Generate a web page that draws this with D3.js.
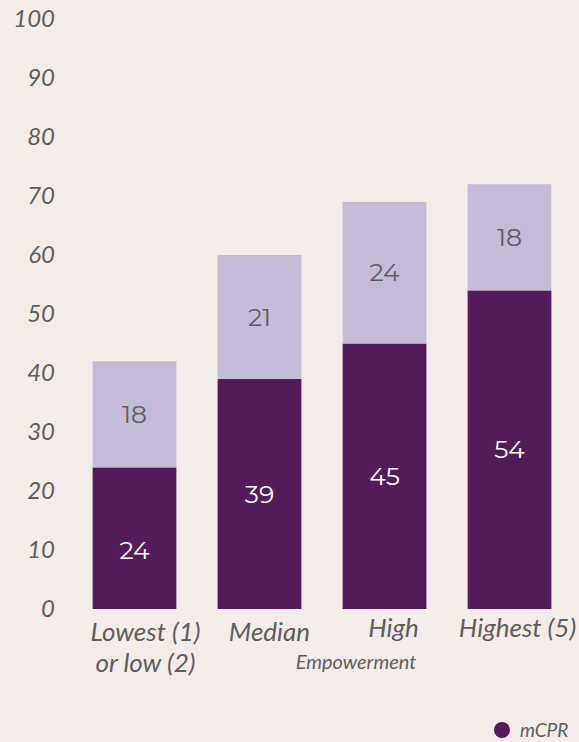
<!DOCTYPE html>
<html>
<head>
<meta charset="utf-8">
<script src="https://cdn.jsdelivr.net/npm/d3@7"></script>
<style>
  html, body { margin: 0; padding: 0; background: #f4ece9; }
  svg { display: block; }
</style>
</head>
<body>
<svg id="chart" width="579" height="742"></svg>
<script>
const categories = ["Lowest (1) or low (2)", "Median", "High", "Highest (5)"];
const categoryLines = [["Lowest (1)", "or low (2)"], ["Median"], ["High"], ["Highest (5)"]];
const mcpr = [24, 39, 45, 54];
const other = [18, 21, 24, 18];
const yTicks = [0, 10, 20, 30, 40, 50, 60, 70, 80, 90, 100];
const axisTitle = "Empowerment";
const legendLabel = "mCPR";

const W = 579, H = 742;
const svg = d3.select("#chart");
svg.append("rect").attr("width", W).attr("height", H).attr("fill", "#f4ece9");

const x = d3.scaleBand().domain(categories).range([72, 572]).paddingInner(0.33).paddingOuter(0.165);
const y = d3.scaleLinear().domain([0, 100]).range([609, 19]);

const DARK = "#541b5b", LIGHT = "#c4bbd8", TEXT = "#5e5e5e";

// y axis labels
const yAxis = d3.axisLeft(y).tickValues(yTicks).tickSize(0).tickPadding(0);
const gy = svg.append("g").attr("transform", "translate(55,0)").call(yAxis);
gy.select(".domain").remove();
gy.selectAll("text")
  .attr("fill", TEXT)
  .attr("font-family", "Lato, sans-serif")
  .attr("font-style", "italic")
  .attr("font-size", 24)
  .attr("dy", "0.3em");

const stackData = categories.map((c, i) => ({ cat: c, mcpr: mcpr[i], other: other[i] }));

// dark segments
svg.selectAll("rect.dark").data(stackData).join("rect")
  .attr("class", "dark")
  .attr("x", d => x(d.cat))
  .attr("width", x.bandwidth())
  .attr("y", d => y(d.mcpr))
  .attr("height", d => y(0) - y(d.mcpr))
  .attr("fill", DARK);

// light segments
svg.selectAll("rect.light").data(stackData).join("rect")
  .attr("class", "light")
  .attr("x", d => x(d.cat))
  .attr("width", x.bandwidth())
  .attr("y", d => y(d.mcpr + d.other))
  .attr("height", d => y(d.mcpr) - y(d.mcpr + d.other))
  .attr("fill", LIGHT);

const valFont = "Montserrat, 'Open Sans', sans-serif";
svg.selectAll("text.vd").data(stackData).join("text")
  .attr("class", "vd")
  .attr("x", d => x(d.cat) + x.bandwidth() / 2)
  .attr("y", (d, i) => y(d.mcpr / 2) + (i === 0 ? 12 : 0))
  .attr("dy", "0.35em")
  .attr("text-anchor", "middle")
  .attr("fill", "#ffffff")
  .attr("font-family", valFont)
  .attr("font-weight", 400)
  .attr("font-size", 25)
  .text(d => d.mcpr);

svg.selectAll("text.vl").data(stackData).join("text")
  .attr("class", "vl")
  .attr("x", d => x(d.cat) + x.bandwidth() / 2)
  .attr("y", d => y(d.mcpr + d.other / 2))
  .attr("dy", "0.35em")
  .attr("text-anchor", "middle")
  .attr("fill", TEXT)
  .attr("font-family", valFont)
  .attr("font-weight", 400)
  .attr("font-size", 25)
  .text(d => d.other);

// x labels
const xLabelY = [632, 632, 628, 628];
const xLabelShift = [11, 10, 9, 8];
const gx = svg.append("g");
categories.forEach((c, i) => {
  const cx = x(c) + x.bandwidth() / 2 + xLabelShift[i];
  const t = gx.append("text")
    .attr("x", cx)
    .attr("y", xLabelY[i])
    .attr("text-anchor", "middle")
    .attr("fill", TEXT)
    .attr("font-family", "Lato, sans-serif")
    .attr("font-style", "italic")
    .attr("font-size", 26);
  categoryLines[i].forEach((line, j) => {
    t.append("tspan")
      .attr("x", cx)
      .attr("dy", j === 0 ? "0.35em" : 31)
      .text(line);
  });
});

svg.append("text")
  .attr("x", 356)
  .attr("y", 662)
  .attr("dy", "0.35em")
  .attr("text-anchor", "middle")
  .attr("fill", TEXT)
  .attr("font-family", "Lato, sans-serif")
  .attr("font-style", "italic")
  .attr("font-size", 20)
  .text(axisTitle);

// legend
const lg = svg.append("g").attr("transform", "translate(502,730)");
lg.append("circle").attr("r", 8).attr("fill", DARK);
lg.append("text")
  .attr("x", 18)
  .attr("dy", "0.35em")
  .attr("fill", TEXT)
  .attr("font-family", "Lato, sans-serif")
  .attr("font-style", "italic")
  .attr("font-size", 19)
  .text(legendLabel);
</script>
</body>
</html>
